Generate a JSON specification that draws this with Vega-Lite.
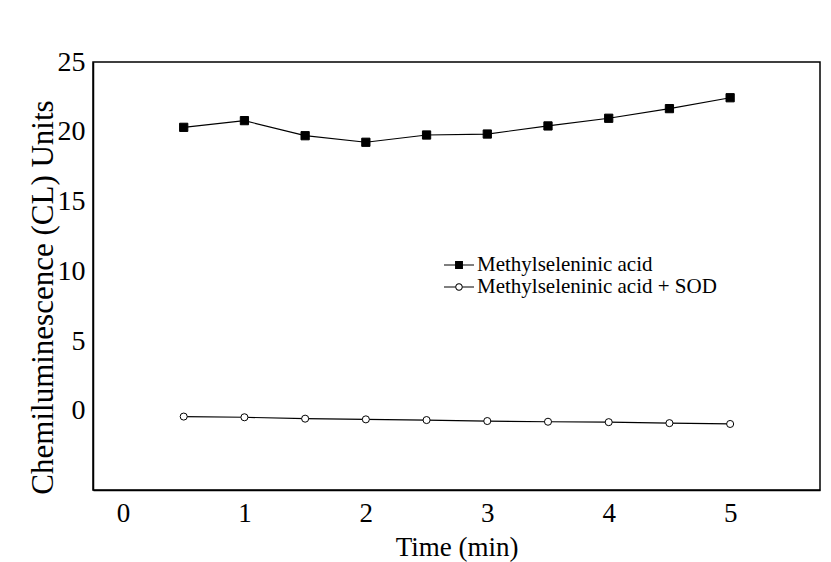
{
  "$schema": "https://vega.github.io/schema/vega-lite/v6.json",
  "autosize": {"type": "none"},
  "padding": {"left": 93, "top": 62, "right": 11, "bottom": 72},
  "width": 727,
  "height": 428,
  "background": "white",
  "config": {
    "font": "Liberation Serif",
    "view": {"stroke": "black", "strokeWidth": 1.5},
    "axis": {"grid": false, "domainColor": "black", "domainWidth": 1.5, "labelColor": "black", "titleColor": "black", "labelFont": "Liberation Serif", "titleFont": "Liberation Serif", "titleFontWeight": "normal"}
  },
  "data": {
    "values": [
      {"time": 0.5, "cl": 20.32, "series": "Methylseleninic acid"},
      {"time": 1.0, "cl": 20.8, "series": "Methylseleninic acid"},
      {"time": 1.5, "cl": 19.72, "series": "Methylseleninic acid"},
      {"time": 2.0, "cl": 19.25, "series": "Methylseleninic acid"},
      {"time": 2.5, "cl": 19.77, "series": "Methylseleninic acid"},
      {"time": 3.0, "cl": 19.84, "series": "Methylseleninic acid"},
      {"time": 3.5, "cl": 20.42, "series": "Methylseleninic acid"},
      {"time": 4.0, "cl": 20.97, "series": "Methylseleninic acid"},
      {"time": 4.5, "cl": 21.66, "series": "Methylseleninic acid"},
      {"time": 5.0, "cl": 22.44, "series": "Methylseleninic acid"},
      {"time": 0.5, "cl": -0.4, "series": "Methylseleninic acid + SOD"},
      {"time": 1.0, "cl": -0.45, "series": "Methylseleninic acid + SOD"},
      {"time": 1.5, "cl": -0.55, "series": "Methylseleninic acid + SOD"},
      {"time": 2.0, "cl": -0.6, "series": "Methylseleninic acid + SOD"},
      {"time": 2.5, "cl": -0.65, "series": "Methylseleninic acid + SOD"},
      {"time": 3.0, "cl": -0.72, "series": "Methylseleninic acid + SOD"},
      {"time": 3.5, "cl": -0.77, "series": "Methylseleninic acid + SOD"},
      {"time": 4.0, "cl": -0.8, "series": "Methylseleninic acid + SOD"},
      {"time": 4.5, "cl": -0.87, "series": "Methylseleninic acid + SOD"},
      {"time": 5.0, "cl": -0.93, "series": "Methylseleninic acid + SOD"}
    ]
  },
  "encoding": {
    "x": {
      "field": "time", "type": "quantitative",
      "scale": {"domain": [-0.247, 5.74], "nice": false, "zero": false},
      "axis": {"values": [0, 1, 2, 3, 4, 5], "title": "Time (min)", "ticks": false, "tickSize": 0, "labelPadding": 23, "labelBaseline": "middle", "labelFontSize": 27, "titleFontSize": 27, "titleBaseline": "middle", "titleY": 57, "labelFlush": false}
    },
    "y": {
      "field": "cl", "type": "quantitative",
      "scale": {"domain": [-5.66, 25], "nice": false, "zero": false},
      "axis": {"values": [0, 5, 10, 15, 20, 25], "title": "Chemiluminescence (CL) Units", "ticks": false, "tickSize": 0, "labelPadding": 8, "labelFontSize": 28, "labelFlush": false, "titleFontSize": 31, "titleBaseline": "middle", "titleX": -50, "titleY": 235, "titleAngle": -90}
    }
  },
  "layer": [
    {
      "mark": {"type": "line", "color": "black", "strokeWidth": 1.2},
      "encoding": {"detail": {"field": "series"}}
    },
    {
      "mark": {"type": "point", "filled": true, "stroke": "black", "strokeWidth": 1, "opacity": 1},
      "encoding": {
        "shape": {"condition": {"test": "datum.series === 'Methylseleninic acid'", "value": "square"}, "value": "circle"},
        "fill": {"condition": {"test": "datum.series === 'Methylseleninic acid'", "value": "black"}, "value": "white"},
        "size": {"condition": {"test": "datum.series === 'Methylseleninic acid'", "value": 68}, "value": 50}
      }
    },
    {
      "transform": [{"filter": "datum.time > 100"}],
      "mark": {"type": "point", "filled": true, "color": "black", "opacity": 1},
      "encoding": {
        "shape": {
          "field": "series", "type": "nominal",
          "scale": {"domain": ["Methylseleninic acid", "Methylseleninic acid + SOD"], "range": ["M-1.25,-0.05H-0.33V0.05H-1.25Z M0.33,-0.05H1.25V0.05H0.33Z M-0.33,-0.33H0.33V0.33H-0.33Z", "M-1.25,-0.05H-0.31V0.05H-1.25Z M0.31,-0.05H1.25V0.05H0.31Z M-0.31,0A0.31,0.31 0 1,1 0.31,0A0.31,0.31 0 1,1 -0.31,0Z M-0.23,0A0.23,0.23 0 1,0 0.23,0A0.23,0.23 0 1,0 -0.23,0Z"]},
          "legend": {
            "title": null,
            "orient": "none",
            "legendX": 354,
            "legendY": 191,
            "labelFont": "Liberation Serif",
            "labelFontSize": 21,
            "labelColor": "black",
            "labelLimit": 500,
            "labelOffset": 6,
            "symbolSize": 576,
            "symbolFillColor": "black",
            "symbolStrokeWidth": 0,
            "rowPadding": 0,
            "padding": 0
          }
        }
      }
    }
  ]
}
